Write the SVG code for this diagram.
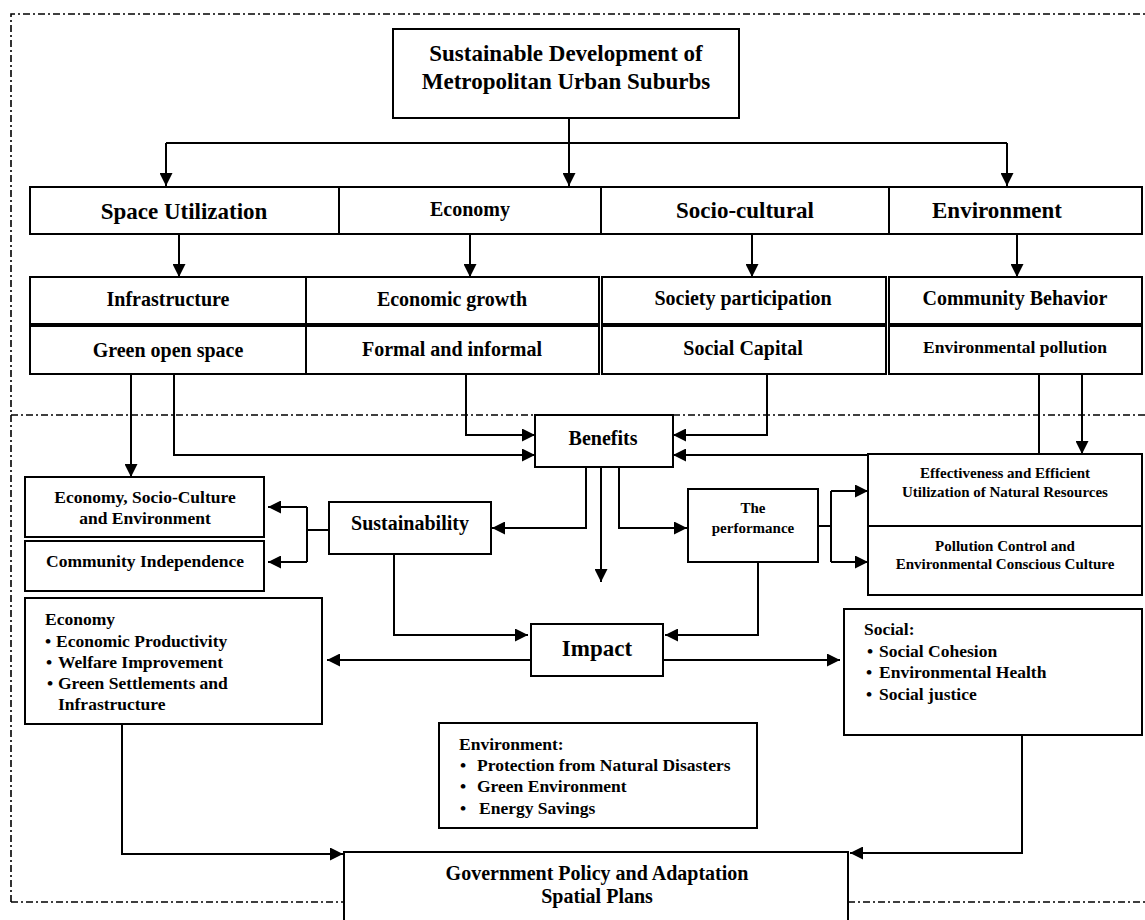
<svg xmlns="http://www.w3.org/2000/svg" width="1145" height="920" viewBox="0 0 1145 920">
<defs>
<marker id="ah" markerUnits="userSpaceOnUse" markerWidth="13" markerHeight="13" refX="13" refY="6.5" orient="auto">
<path d="M0,0 L13,6.5 L0,13 Z" fill="#000"/>
</marker>
<style>
.box{fill:#fff;stroke:#000;stroke-width:2}
.ln{fill:none;stroke:#000;stroke-width:2}
.ar{fill:none;stroke:#000;stroke-width:2;marker-end:url(#ah)}
.fr{fill:none;stroke:#000;stroke-width:1.6;stroke-dasharray:7 3 2 3}
text{font-family:"Liberation Serif","Times New Roman",serif;font-weight:bold;fill:#000}
.c{text-anchor:middle}
.f23{font-size:23px}
.f20{font-size:20px}
.f18{font-size:17.5px}
.f15{font-size:15px}
</style>
</defs>
<rect width="1145" height="920" fill="#fff"/>
<g id="frame">
<path class="fr" d="M11,902 L11,14 L1145,14"/>
<path class="fr" d="M11,415 L535,415 M673,415 L1145,415"/>
<path class="fr" d="M11,902 L344,902 M848,902 L1145,902"/>
</g>
<g id="connectors">
<path class="ln" d="M569,118 L569,143 M166,143 L1007,143"/>
<path class="ar" d="M166,143 L166,186"/>
<path class="ar" d="M569,143 L569,186"/>
<path class="ar" d="M1007,143 L1007,186"/>
<path class="ar" d="M179,234 L179,277"/>
<path class="ar" d="M470,234 L470,277"/>
<path class="ar" d="M752,234 L752,277"/>
<path class="ar" d="M1017,234 L1017,277"/>
<path class="ar" d="M131,374 L131,477"/>
<path class="ar" d="M174,374 L174,455 L535,455"/>
<path class="ar" d="M466,374 L466,435 L535,435"/>
<path class="ar" d="M767,374 L767,435 L673,435"/>
<path class="ar" d="M1039,374 L1039,455 L673,455"/>
<path class="ar" d="M1082,374 L1082,454"/>
<path class="ar" d="M586,467 L586,528 L492,528"/>
<path class="ar" d="M601,467 L601,582"/>
<path class="ar" d="M619,467 L619,528 L687,528"/>
<path class="ln" d="M329,530 L307,530 M307,507 L307,562"/>
<path class="ar" d="M307,507 L268,507"/>
<path class="ar" d="M307,562 L268,562"/>
<path class="ln" d="M818,526 L831,526 M831,491 L831,562"/>
<path class="ar" d="M831,491 L868,491"/>
<path class="ar" d="M831,562 L868,562"/>
<path class="ar" d="M394,554 L394,635 L528,635"/>
<path class="ar" d="M758,562 L758,635 L665,635"/>
<path class="ar" d="M531,660 L327,660"/>
<path class="ar" d="M663,660 L840,660"/>
<path class="ar" d="M122,724 L122,854 L343,854"/>
<path class="ar" d="M1022,735 L1022,853 L850,853"/>
</g>
<g id="n-title">
<rect class="box" x="393" y="29" width="346" height="89"/>
<text class="c f23" x="566" y="61">Sustainable Development of</text>
<text class="c f23" x="566" y="89">Metropolitan Urban Suburbs</text>
</g>
<g id="n-space">
<rect class="box" x="30" y="187" width="309" height="47"/>
<text class="c f23" x="184" y="219">Space Utilization</text>
</g>
<g id="n-economy">
<rect class="box" x="339" y="187" width="262" height="47"/>
<text class="c f20" x="470" y="216">Economy</text>
</g>
<g id="n-socio">
<rect class="box" x="601" y="187" width="288" height="47"/>
<text class="c f23" x="745" y="218">Socio-cultural</text>
</g>
<g id="n-environment">
<rect class="box" x="889" y="187" width="253" height="47"/>
<text class="c f23" x="997" y="218">Environment</text>
</g>
<g id="n-infra">
<rect class="box" x="30" y="277" width="276" height="47"/>
<text class="c f20" x="168" y="306">Infrastructure</text>
</g>
<g id="n-growth">
<rect class="box" x="306" y="277" width="293" height="47"/>
<text class="c f20" x="452" y="306">Economic growth</text>
</g>
<g id="n-participation">
<rect class="box" x="602" y="277" width="284" height="47"/>
<text class="c f20" x="743" y="305">Society participation</text>
</g>
<g id="n-behavior">
<rect class="box" x="889" y="277" width="253" height="47"/>
<text class="c f20" x="1015" y="305">Community Behavior</text>
</g>
<g id="n-green">
<rect class="box" x="30" y="326" width="276" height="48"/>
<text class="c f20" x="168" y="357">Green open space</text>
</g>
<g id="n-formal">
<rect class="box" x="306" y="326" width="293" height="48"/>
<text class="c f20" x="452" y="356">Formal and informal</text>
</g>
<g id="n-capital">
<rect class="box" x="602" y="326" width="284" height="48"/>
<text class="c f20" x="743" y="355">Social Capital</text>
</g>
<g id="n-pollution">
<rect class="box" x="889" y="326" width="253" height="48"/>
<text class="c f18" x="1015" y="353">Environmental pollution</text>
</g>
<g id="n-benefits">
<rect class="box" x="535" y="415" width="138" height="52"/>
<text class="c f20" x="603" y="445">Benefits</text>
</g>
<g id="n-ecosoc">
<rect class="box" x="25" y="477" width="239" height="60"/>
<text class="c f18" x="145" y="503">Economy, Socio-Culture</text>
<text class="c f18" x="145" y="524">and Environment</text>
</g>
<g id="n-independence">
<rect class="box" x="25" y="541" width="239" height="50"/>
<text class="c f18" x="145" y="567">Community Independence</text>
</g>
<g id="n-sustainability">
<rect class="box" x="329" y="502" width="162" height="52"/>
<text class="c f20" x="410" y="530">Sustainability</text>
</g>
<g id="n-performance">
<rect class="box" x="688" y="489" width="130" height="73"/>
<text class="c f15" x="753" y="513">The</text>
<text class="c f15" x="753" y="533">performance</text>
</g>
<g id="n-effectiveness">
<rect class="box" x="868" y="454" width="274" height="72"/>
<text class="c f15" x="1005" y="478">Effectiveness and Efficient</text>
<text class="c f15" x="1005" y="497">Utilization of Natural Resources</text>
</g>
<g id="n-pollcontrol">
<rect class="box" x="868" y="526" width="274" height="69"/>
<text class="c f15" x="1005" y="551">Pollution Control and</text>
<text class="c f15" x="1005" y="569">Environmental Conscious Culture</text>
</g>
<g id="n-impact">
<rect class="box" x="531" y="624" width="132" height="52"/>
<text class="c f23" x="597" y="656">Impact</text>
</g>
<g id="n-econ-impact">
<rect class="box" x="25" y="598" width="297" height="126"/>
<text class="f18" x="45" y="625">Economy</text>
<text class="f18" x="45" y="647">•</text><text class="f18" x="56" y="647">Economic Productivity</text>
<text class="f18" x="46" y="668">•</text><text class="f18" x="58" y="668">Welfare Improvement</text>
<text class="f18" x="47" y="689">•</text><text class="f18" x="58" y="689">Green Settlements and</text>
<text class="f18" x="58" y="710">Infrastructure</text>
</g>
<g id="n-social-impact">
<rect class="box" x="844" y="609" width="298" height="126"/>
<text class="f18" x="864" y="635">Social:</text>
<text class="f18" x="867" y="657">•</text><text class="f18" x="879" y="657">Social Cohesion</text>
<text class="f18" x="866" y="678">•</text><text class="f18" x="879" y="678">Environmental Health</text>
<text class="f18" x="866" y="700">•</text><text class="f18" x="879" y="700">Social justice</text>
</g>
<g id="n-env-impact">
<rect class="box" x="439" y="723" width="318" height="105"/>
<text class="f18" x="459" y="750">Environment:</text>
<text class="f18" x="460" y="771">•</text><text class="f18" x="477" y="771">Protection from Natural Disasters</text>
<text class="f18" x="460" y="792">•</text><text class="f18" x="477" y="792">Green Environment</text>
<text class="f18" x="460" y="814">•</text><text class="f18" x="479" y="814">Energy Savings</text>
</g>
<g id="n-government">
<rect class="box" x="344" y="852" width="504" height="80"/>
<text class="c f20" x="597" y="880">Government Policy and Adaptation</text>
<text class="c f20" x="597" y="903">Spatial Plans</text>
</g>
</svg>
